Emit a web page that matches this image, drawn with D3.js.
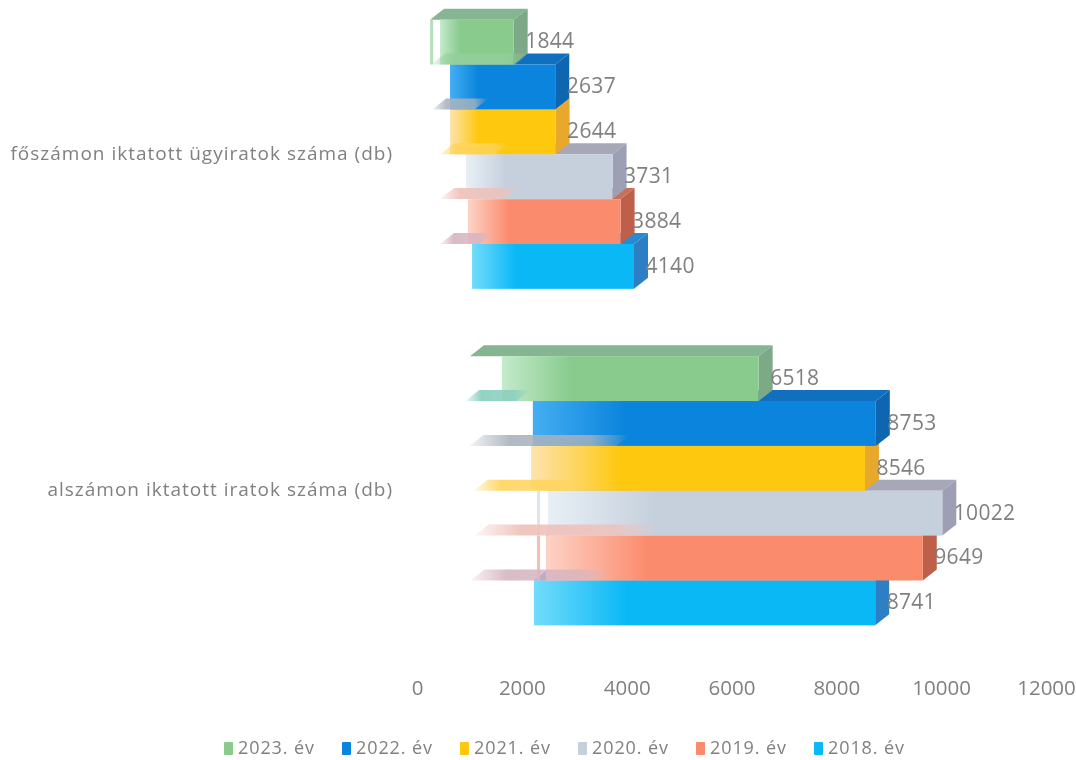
<!DOCTYPE html>
<html>
<head>
<meta charset="utf-8">
<script src="https://cdn.jsdelivr.net/npm/d3@7"></script>
<style>
  html, body { margin: 0; background: #fff; }
  svg { display: block; font-family: "Open Sans", sans-serif; filter: blur(0.35px); }
  text { fill: #808080; }
</style>
</head>
<body>
<svg id="chart" width="1076" height="760"></svg>
<script>
const categories = ['főszámon iktatott ügyiratok száma (db)', 'alszámon iktatott iratok száma (db)'];
const years = ['2023. év', '2022. év', '2021. év', '2020. év', '2019. év', '2018. év'];

// top to bottom, same order as the years
const foszam = [1844, 2637, 2644, 3731, 3884, 4140];
const alszam = [6518, 8753, 8546, 10022, 9649, 8741];

// the scan has washed out the left part of the bars, value where each one becomes visible
const foszamFrom = [440, 630, 630, 935, 973, 1050];
const alszamFrom = [1620, 2210, 2175, 2500, 2460, 2230];

// the top faces survive as thin strips further left, value where each strip starts and ends
const foszamStripFrom = [250, 270, 290, 440, 440, 440];
const foszamStripTo = [1844, 1870, 1100, 1500, 1700, 1200];
const alszamStripFrom = [1010, 920, 1000, 1080, 1100, 1020];
const alszamStripTo = [6518, 1900, 3800, 2900, 4400, 3500];

// thin leftover left edges, null where the bar has none
const foszamEdge = [250, null, null, null, null, null];
const alszamEdge = [null, null, null, 2290, 2290, null];

const tickValues = [0, 2000, 4000, 6000, 8000, 10000, 12000];

const frontColors = ['#88cb8d', '#0a84dc', '#fec80e', '#c6d0dc', '#fb8b6d', '#0bb8f6'];
const startColors = ['#c4eacb', '#45aef2', '#fde3ae', '#e8f0f6', '#fdd3c6', '#72dcfb'];
const sideColors = ['#7da986', '#0f66b0', '#e8a82c', '#9d9fb4', '#bd5f49', '#2c7fc5'];
const topColors = ['#86b592', '#1070bf', '#eeb83a', '#a6a8b8', '#c8705a', '#2a8ad0'];
const foszamStripColors = ['#86b592', '#93cf9c', '#a9b2bd', '#ffd45a', '#efbfb8', '#d6b4c2'];
const alszamStripColors = ['#86b592', '#86cdbc', '#a9b2bd', '#ffd45a', '#efbfb8', '#d6b4c2'];
const edgeColors = ['#b4e0bc', '#45aef2', '#fde3ae', '#dde5ee', '#f3bfb2', '#72dcfb'];

const series = [foszam, alszam];
const visibleFrom = [foszamFrom, alszamFrom];
const stripFrom = [foszamStripFrom, alszamStripFrom];
const stripTo = [foszamStripTo, alszamStripTo];
const stripColors = [foszamStripColors, alszamStripColors];
const edges = [foszamEdge, alszamEdge];

const depthX = 14;
const depthY = 11;

const x = d3.scaleLinear().domain([0, 12000]).range([417, 1046]);
const yGroup = d3.scaleBand().domain(categories).range([-14, 659]).paddingInner(0.2).paddingOuter(0.1);
const yBar = d3.scaleBand().domain(years).range([0, yGroup.bandwidth()]);

const svg = d3.select('#chart');

// Gradients
const defs = svg.append('defs');
years.forEach((year, i) => {
  const front = defs.append('linearGradient').attr('id', 'front' + i);
  front.append('stop').attr('offset', 0).attr('stop-color', startColors[i]);
  front.append('stop').attr('offset', 0.27).attr('stop-color', frontColors[i]);

  categories.forEach((category, c) => {
    const color = stripColors[c][i];
    const strip = defs.append('linearGradient').attr('id', `strip${c}-${i}`);
    strip.append('stop').attr('offset', 0).attr('stop-color', color).attr('stop-opacity', 0.15);
    strip.append('stop').attr('offset', 0.25).attr('stop-color', color).attr('stop-opacity', 0.9);
    strip.append('stop').attr('offset', 0.75).attr('stop-color', color).attr('stop-opacity', 0.8);
    strip.append('stop').attr('offset', 1).attr('stop-color', color).attr('stop-opacity', 0);
  });
});

// Flat list of bars, bottom bar first so upper bars paint over the lower ones
const bars = [];
categories.forEach((category, c) => {
  years.forEach((year, i) => {
    bars.push({
      category, year, i, c,
      value: series[c][i],
      stripFrom: stripFrom[c][i],
      stripTo: stripTo[c][i],
      edge: edges[c][i],
      x0: x(visibleFrom[c][i]),
      x1: x(series[c][i]),
      y0: yGroup(category) + yBar(year),
      h: yBar.bandwidth()
    });
  });
});
const paintOrder = bars.slice().sort((a, b) => b.i - a.i);

const barLayer = svg.append('g').attr('class', 'bars');

// Top face
barLayer.selectAll('path.top')
  .data(paintOrder)
  .enter()
  .append('path')
    .attr('class', 'top')
    .attr('fill', d => topColors[d.i])
    .attr('d', d => {
      const left = d.i === 0 ? x(d.stripFrom) : d.x0;
      return `M${left},${d.y0}L${left + depthX},${d.y0 - depthY}H${d.x1 + depthX}L${d.x1},${d.y0}Z`;
    });

barLayer.selectAll('g.bar')
  .data(paintOrder)
  .enter()
  .append('g')
    .attr('class', 'bar')
    .each(function (d) {
      const g = d3.select(this);
      // right side
      g.append('path')
        .attr('fill', sideColors[d.i])
        .attr('d', `M${d.x1},${d.y0}L${d.x1 + depthX},${d.y0 - depthY}V${d.y0 + d.h - depthY}L${d.x1},${d.y0 + d.h}Z`);
      // front
      g.append('rect')
        .attr('x', d.x0)
        .attr('y', d.y0)
        .attr('width', d.x1 - d.x0)
        .attr('height', d.h)
        .attr('fill', `url(#front${d.i})`);
      if (d.edge !== null) {
        g.append('rect')
          .attr('x', x(d.edge))
          .attr('y', d.y0)
          .attr('width', 3)
          .attr('height', d.h)
          .attr('fill', edgeColors[d.i]);
      }
    });

// Leftover strips of the top faces, these lie over the bar above them
svg.append('g')
  .attr('class', 'strips')
  .selectAll('path')
  .data(bars.filter(d => d.i > 0))
  .enter()
  .append('path')
    .attr('fill', d => `url(#strip${d.c}-${d.i})`)
    .attr('d', d => {
      const left = x(d.stripFrom);
      const right = x(d.stripTo);
      return `M${left},${d.y0}L${left + depthX},${d.y0 - depthY}H${right + depthX}L${right},${d.y0}Z`;
    });

// Data labels
svg.append('g')
  .attr('class', 'labels')
  .selectAll('text')
  .data(bars)
  .enter()
  .append('text')
    .attr('x', d => d.x1 + 11.5)
    .attr('y', d => d.y0 + d.h / 2 - 1)
    .attr('dy', '0.35em')
    .attr('font-size', 21)
    .attr('letter-spacing', 0.3)
    .text(d => d.value);

// Category labels, placed by hand at the y axis
svg.append('g')
  .attr('class', 'categories')
  .selectAll('text')
  .data(categories)
  .enter()
  .append('text')
    .attr('x', 393)
    .attr('y', d => yGroup(d) + yGroup.bandwidth() / 2 - 1)
    .attr('dy', '0.35em')
    .attr('text-anchor', 'end')
    .attr('font-size', 19)
    .attr('letter-spacing', 1)
    .text(d => d);

// Value axis
const axis = svg.append('g')
  .attr('transform', 'translate(0,680)')
  .call(d3.axisBottom(x).tickValues(tickValues).tickSize(0).tickPadding(0).tickFormat(d3.format('d')));
axis.select('.domain').remove();
axis.selectAll('text')
  .attr('font-size', 20.5)
  .attr('font-family', '"Open Sans", sans-serif')
  .style('fill', '#808080');

// Legend
const legendX = d3.scalePoint().domain(years).range([224, 814]);
const legendItem = svg.append('g')
  .attr('class', 'legend')
  .selectAll('g')
  .data(years)
  .enter()
  .append('g')
    .attr('transform', d => `translate(${legendX(d)},748)`);

legendItem.append('rect')
  .attr('x', 0)
  .attr('y', -6)
  .attr('width', 9)
  .attr('height', 13)
  .attr('rx', 1)
  .attr('fill', (d, i) => frontColors[i]);

legendItem.append('text')
  .attr('x', 14)
  .attr('dy', '0.35em')
  .attr('font-size', 18)
  .attr('letter-spacing', 0.9)
  .text(d => d);
</script>
</body>
</html>
